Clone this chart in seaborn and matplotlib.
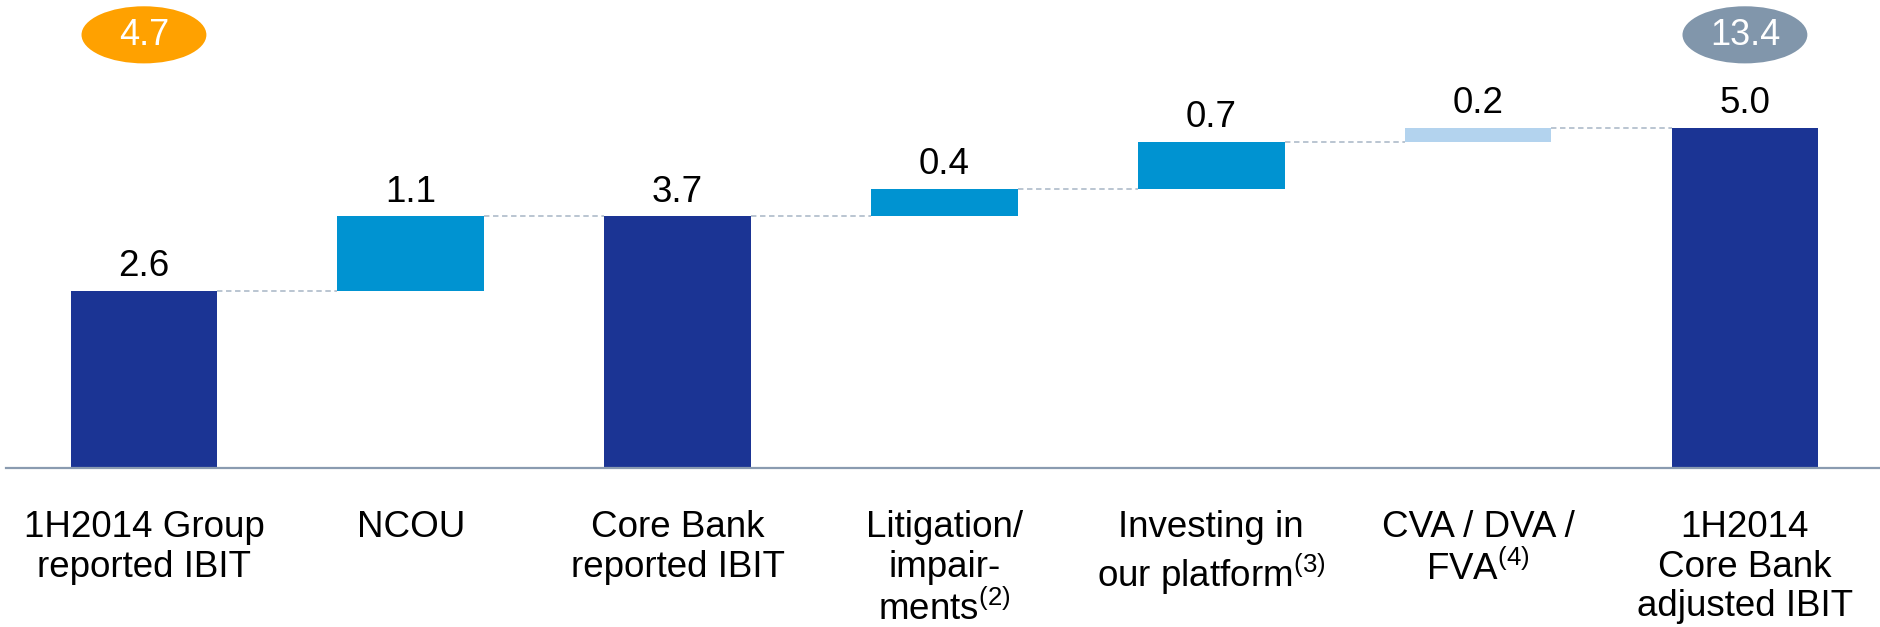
import numpy as np
import pandas as pd
import matplotlib
matplotlib.use("Agg")
import matplotlib.pyplot as plt
from matplotlib.patches import Ellipse
import seaborn as sns

# Data
categories = ["1H2014 Group\nreported IBIT", "NCOU", "Core Bank\nreported IBIT",
              "Litigation/\nimpair-\nments$^{(2)}$", "Investing in\nour platform$^{(3)}$",
              "CVA / DVA /\nFVA$^{(4)}$", "1H2014\nCore Bank\nadjusted IBIT"]
values = [2.6, 1.1, 3.7, 0.4, 0.7, 0.2, 5.0]
kinds = ["total", "step", "total", "step", "step", "step", "total"]
badge_values = ["4.7", "13.4"]

bar_colors = ["#1B3494", "#0093D1", "#1B3494", "#0093D1", "#0093D1", "#B3D3EE", "#1B3494"]
badge_colors = ["#FFA100", "#8196AB"]

# waterfall bases
bases = []
running = 0.0
for v, k in zip(values, kinds):
    if k == "total":
        bases.append(0.0)
        running = v
    else:
        bases.append(running)
        running += v
tops = [b + v for b, v in zip(bases, values)]

df = pd.DataFrame({"cat": categories, "val": values})

sns.set_style("white")
plt.rcParams["font.family"] = ["Liberation Sans", "DejaVu Sans"]
plt.rcParams["mathtext.fontset"] = "custom"
plt.rcParams["mathtext.rm"] = "Liberation Sans"

fig = plt.figure(figsize=(18.81, 6.27), dpi=100)
ax = fig.add_axes([6 / 1881, 159 / 627, 1 - 6 / 1881, 468 / 627])

sns.barplot(data=df, x="cat", y="val", bottom=np.array(bases), color=bar_colors[0],
            width=0.55, errorbar=None, ax=ax, saturation=1, linewidth=0)
for patch, c in zip(ax.patches, bar_colors):
    patch.set_facecolor(c)

# connectors
for i in range(len(values) - 1):
    level = tops[i]
    ax.plot([i + 0.275, i + 1 - 0.275], [level, level], color="#B4C0CE",
            lw=1.3, ls=(0, (3, 2)), zorder=0)

# value labels
for i, (t, v) in enumerate(zip(tops, values)):
    ax.text(i, t + 0.1, f"{v:.1f}", ha="center", va="bottom", fontsize=26.5, color="black")

# badges
for x, txt, c in zip([0, 6], badge_values, badge_colors):
    ax.add_patch(Ellipse((x, 6.37), 0.468, 0.84, facecolor=c, edgecolor="none",
                         clip_on=False))
    ax.text(x, 6.36, txt, ha="center", va="center", fontsize=26, color="white")

ax.set_xlim(-0.517, 6.51)
ax.set_ylim(0, 468 / 68)
ax.set_xlabel("")
ax.set_ylabel("")
ax.set_yticks([])
ax.tick_params(axis="x", length=0, pad=30, labelsize=26.5, labelcolor="black")
plt.setp(ax.get_xticklabels(), linespacing=1.18, ha="center")
for s in ["top", "right", "left"]:
    ax.spines[s].set_visible(False)
ax.spines["bottom"].set_color("#8A9BB0")
ax.spines["bottom"].set_linewidth(1.6)

fig.savefig("out.png", dpi=100)
